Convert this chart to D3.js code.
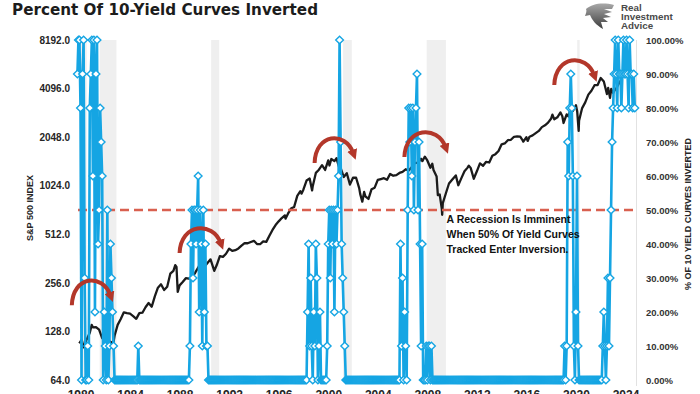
<!DOCTYPE html>
<html>
<head>
<meta charset="utf-8">
<script src="https://cdn.jsdelivr.net/npm/d3@7"></script>
<style>
  body { margin: 0; background: #fff; }
  svg { display: block; font-family: "Liberation Sans", Arial, sans-serif; }
</style>
</head>
<body>
<svg id="chart" width="700" height="394"></svg>
<script>
// ---- data ----
const yearTicks = [1980, 1984, 1988, 1992, 1996, 2000, 2004, 2008, 2012, 2016, 2020, 2024];
const spTicks = [64, 128, 256, 512, 1024, 2048, 4096, 8192];
const pctTicks = [0, 10, 20, 30, 40, 50, 60, 70, 80, 90, 100];

// recession shading, [start, end] in decimal years
const recessions = [[1980.0, 1980.5], [1981.55, 1982.9], [1990.55, 1991.2], [2001.2, 2001.9], [2007.95, 2009.5], [2020.1, 2020.3]];

// S&P 500 index, [decimal year, level]
const sp500 = [
  [1979.9, 107.9], [1980.1, 113.7], [1980.25, 102.1], [1980.5, 114.2], [1980.75, 125.5], [1980.9, 140.5], [1981.0, 135.8],
  [1981.25, 136.0], [1981.5, 131.2], [1981.75, 116.2], [1982.0, 122.6],
  [1982.25, 112.0], [1982.5, 109.6], [1982.6, 102.4], [1982.75, 120.4], [1983.0, 140.6],
  [1983.25, 153.0], [1983.5, 168.1], [1983.75, 166.1], [1984.0, 164.9],
  [1984.25, 159.2], [1984.5, 153.2], [1984.75, 166.1], [1985.0, 167.2],
  [1985.25, 180.7], [1985.5, 191.9], [1985.75, 182.1], [1986.0, 211.3],
  [1986.25, 238.9], [1986.5, 250.8], [1986.75, 231.3], [1987.0, 242.2],
  [1987.25, 291.7], [1987.5, 304.0], [1987.65, 329.8], [1987.75, 321.8], [1987.85, 224.8], [1988.0, 247.1],
  [1988.25, 258.9], [1988.5, 273.5], [1988.75, 271.9], [1989.0, 277.7],
  [1989.25, 294.9], [1989.5, 318.0], [1989.75, 349.2], [1990.0, 353.4],
  [1990.1, 329.1], [1990.25, 339.9], [1990.5, 358.0], [1990.8, 304.0], [1991.0, 330.2],
  [1991.25, 375.2], [1991.5, 371.2], [1991.75, 387.9], [1992.0, 417.1],
  [1992.25, 403.7], [1992.5, 408.1], [1992.75, 418.5], [1993.0, 435.7],
  [1993.25, 451.7], [1993.5, 450.5], [1993.75, 458.9], [1994.0, 466.5],
  [1994.25, 445.8], [1994.5, 444.3], [1994.75, 462.7], [1995.0, 459.3],
  [1995.25, 500.7], [1995.5, 544.8], [1995.75, 584.4], [1996.0, 615.9],
  [1996.25, 645.5], [1996.5, 670.6], [1996.55, 639.9], [1996.75, 687.3], [1997.0, 740.7],
  [1997.25, 757.1], [1997.5, 885.1], [1997.75, 947.3], [1997.85, 914.6], [1998.0, 970.4],
  [1998.25, 1101.8], [1998.5, 1133.8], [1998.7, 957.3], [1998.75, 1017.0], [1999.0, 1229.2],
  [1999.25, 1286.4], [1999.5, 1372.7], [1999.75, 1282.7], [2000.0, 1469.3],
  [2000.1, 1366.4], [2000.25, 1498.6], [2000.5, 1454.6], [2000.67, 1517.7], [2000.75, 1436.5], [2000.9, 1315.2], [2001.0, 1320.3],
  [2001.25, 1160.3], [2001.5, 1224.4], [2001.75, 1040.9], [2002.0, 1148.1],
  [2002.25, 1147.4], [2002.5, 989.8], [2002.58, 911.6], [2002.75, 815.3], [2002.9, 936.3], [2003.0, 879.8],
  [2003.25, 848.2], [2003.5, 974.5], [2003.75, 996.0], [2004.0, 1111.9],
  [2004.25, 1126.2], [2004.5, 1140.8], [2004.75, 1114.6], [2005.0, 1211.9],
  [2005.25, 1180.6], [2005.5, 1191.3], [2005.75, 1228.8], [2006.0, 1248.3],
  [2006.25, 1294.9], [2006.5, 1270.2], [2006.75, 1335.8], [2007.0, 1418.3],
  [2007.25, 1420.9], [2007.5, 1503.4], [2007.6, 1455.3], [2007.75, 1526.8], [2007.8, 1549.4], [2008.0, 1468.4],
  [2008.25, 1322.7], [2008.4, 1400.4], [2008.5, 1280.0], [2008.75, 1166.4], [2008.85, 896.2], [2009.0, 903.3],
  [2009.17, 735.1], [2009.2, 676.5], [2009.25, 797.9], [2009.5, 919.3], [2009.75, 1057.1], [2010.0, 1115.1],
  [2010.3, 1186.7], [2010.5, 1030.7], [2010.75, 1141.2], [2011.0, 1257.6],
  [2011.25, 1325.8], [2011.35, 1363.6], [2011.5, 1320.6], [2011.75, 1131.4], [2012.0, 1257.6],
  [2012.25, 1408.5], [2012.5, 1362.2], [2012.75, 1440.7], [2013.0, 1426.2],
  [2013.25, 1569.2], [2013.5, 1606.3], [2013.75, 1681.6], [2014.0, 1848.4],
  [2014.25, 1872.3], [2014.5, 1960.2], [2014.75, 1972.3], [2015.0, 2058.9],
  [2015.25, 2067.9], [2015.5, 2063.1], [2015.67, 1972.2], [2015.75, 1920.0], [2016.0, 2043.9],
  [2016.1, 1940.2], [2016.25, 2059.7], [2016.5, 2098.9], [2016.75, 2168.3], [2017.0, 2238.8],
  [2017.25, 2362.7], [2017.5, 2423.4], [2017.75, 2519.4], [2018.0, 2673.6],
  [2018.1, 2823.8], [2018.25, 2640.9], [2018.5, 2718.4], [2018.75, 2914.0], [2018.9, 2760.2], [2019.0, 2506.9],
  [2019.25, 2834.4], [2019.4, 2752.1], [2019.5, 2941.8], [2019.75, 2976.7], [2020.0, 3230.8],
  [2020.1, 2954.2], [2020.22, 2237.4], [2020.25, 2584.6], [2020.5, 3100.3], [2020.75, 3363.0], [2021.0, 3756.1],
  [2021.25, 3972.9], [2021.5, 4297.5], [2021.75, 4307.5], [2022.0, 4766.2],
  [2022.25, 4530.4], [2022.5, 3785.4], [2022.6, 4130.3], [2022.75, 3585.6], [2022.85, 4080.1], [2023.0, 3839.5],
  [2023.1, 3970.2], [2023.25, 4109.3], [2023.5, 4450.4], [2023.58, 4589.0]
];

// % of 10 yield curves inverted, monthly; months outside the episodes read as 0%
const seriesStart = [1979, 10];
const seriesEnd = [2024, 10];
const inversionEpisodes = [
  { start: [1979, 10], pct: [90, 100, 100, 80, 0, 90, 100, 30, 0, 0, 10, 0, 80, 90, 100,
                             60, 100, 20, 90, 100, 40, 50, 80, 70, 60, 0, 20, 10, 0, 50, 0, 10, 40, 30, 20, 10] },
  { start: [1984, 9], pct: [10] },
  { start: [1988, 11], pct: [10, 40, 50, 30, 50, 50, 40, 50, 60, 20, 50, 40, 10, 50, 20, 40, 10, 10] },
  { start: [1998, 5], pct: [20, 40, 10, 30, 10, 0, 20, 10, 40, 30, 0, 10, 20] },
  { start: [1999, 12], pct: [10, 40, 50, 30, 50, 40, 50, 20, 50, 40, 50, 60, 100, 70, 40, 30, 20, 10] },
  { start: [2005, 11], pct: [40, 10, 30, 0, 20, 10, 0, 50, 80, 70, 80, 60, 80, 50,
                             70, 80, 90, 50, 70, 40, 10, 40, 0, 0, 0, 10, 0, 10, 10, 0, 10] },
  { start: [2019, 2], pct: [10, 0, 10, 70, 60, 80, 90, 80, 60, 10, 0, 20, 60, 10] },
  { start: [2022, 3], pct: [10, 20, 10, 0, 10, 30, 10, 30, 50, 70, 80, 90, 100, 90, 80, 100, 90, 90, 80, 90, 100, 90,
                            90, 100, 90, 80, 100, 90, 90, 80, 90, 80] }
];

// red "topping" arrows: [from year, to year, S&P level at the arrow ends]
const arrows = [[1979.3, 1982.9, 186], [1988.0, 1991.8, 392], [1998.9, 2002.5, 1417], [2006.15, 2009.95, 1542], [2018.25, 2021.95, 4310]];

const noteLines = ["A Recession Is Imminent", "When 50% Of Yield Curves", "Tracked Enter Inversion."];
const logoLines = ["Real", "Investment", "Advice"];

// ---- build monthly series ----
const monthKey = (ym) => ym[0] * 12 + ym[1] - 1;
const curve = [];
for (let k = monthKey(seriesStart); k <= monthKey(seriesEnd); k++) {
  curve.push({ t: Math.floor(k / 12) + (k % 12) / 12, v: 0 });
}
inversionEpisodes.forEach(function (ep) {
  const i0 = monthKey(ep.start) - monthKey(seriesStart);
  ep.pct.forEach(function (v, i) { curve[i0 + i].v = v; });
});

// ---- chart ----
const BLUE = "#15a5e3";
const svg = d3.select("#chart");

const x = d3.scaleLinear().domain([1980, 2024]).range([80.5, 625.5]);
const yL = d3.scaleLog().base(2).domain([64, 8192]).range([380, 40]);
const yR = d3.scaleLinear().domain([0, 100]).range([380, 40]);

const defs = svg.append("defs");
defs.append("marker")
  .attr("id", "arrowhead")
  .attr("viewBox", "0 0 10 10")
  .attr("refX", 3).attr("refY", 5)
  .attr("markerWidth", 2.6).attr("markerHeight", 2.6)
  .attr("orient", "auto")
  .append("path").attr("d", "M0,0 L10,5 L0,10 z").attr("fill", "#b3372a");

const grad = defs.append("linearGradient").attr("id", "logoGrad")
  .attr("x1", 0).attr("y1", 0).attr("x2", 0).attr("y2", 1);
grad.append("stop").attr("offset", "0%").attr("stop-color", "#a8a8a8");
grad.append("stop").attr("offset", "100%").attr("stop-color", "#3d3d3d");

// recession bands
svg.append("g").selectAll("rect")
  .data(recessions)
  .enter().append("rect")
  .attr("x", d => x(d[0]))
  .attr("width", d => x(d[1]) - x(d[0]))
  .attr("y", yR(100))
  .attr("height", yR(0) - yR(100))
  .attr("fill", "#efefef");

// right frame line
svg.append("line")
  .attr("x1", 636.5).attr("x2", 636.5)
  .attr("y1", yR(100)).attr("y2", yR(0) + 6)
  .attr("stroke", "#e2e2e2");

// S&P 500 line
svg.append("path")
  .datum(sp500)
  .attr("fill", "none")
  .attr("stroke", "#1b1b1b")
  .attr("stroke-width", 2.3)
  .attr("stroke-linejoin", "round")
  .attr("d", d3.line().x(d => x(d[0])).y(d => yL(d[1])));

// 50% threshold
svg.append("line")
  .attr("x1", 78).attr("x2", 636)
  .attr("y1", yR(50)).attr("y2", yR(50))
  .attr("stroke", "#d9604f")
  .attr("stroke-width", 2.6)
  .attr("stroke-dasharray", "9,5");

// inverted-curve series
svg.append("path")
  .datum(curve)
  .attr("fill", "none")
  .attr("stroke", BLUE)
  .attr("stroke-width", 2.6)
  .attr("stroke-linejoin", "round")
  .attr("d", d3.line().x(d => x(d.t)).y(d => yR(d.v)));

svg.append("g").selectAll("path")
  .data(curve)
  .enter().append("path")
  .attr("transform", d => "translate(" + x(d.t) + "," + yR(d.v) + ")")
  .attr("d", d3.symbol().type(d3.symbolDiamond2).size(38))
  .attr("fill", "#fff")
  .attr("stroke", BLUE)
  .attr("stroke-width", 1.4);

// arrows
svg.append("g").selectAll("path")
  .data(arrows)
  .enter().append("path")
  .attr("fill", "none")
  .attr("stroke", "#b3372a")
  .attr("stroke-width", 4)
  .attr("marker-end", "url(#arrowhead)")
  .attr("d", function (d) {
    const x0 = x(d[0]), x1 = x(d[1]), yb = yL(d[2]);
    return "M" + x0 + "," + yb +
      " C" + (x0 + 1) + "," + (yb - 30) + " " + (x1 - 14) + "," + (yb - 32) + " " + (x1 - 6) + "," + (yb - 10);
  });

// annotation
svg.append("g").selectAll("text")
  .data(noteLines)
  .enter().append("text")
  .attr("x", x(2009.55))
  .attr("y", (d, i) => yR(50) + 13 + i * 15)
  .attr("font-size", 10.5)
  .attr("font-weight", "bold")
  .attr("fill", "#111")
  .text(d => d);

// axes
const leftAxis = svg.append("g")
  .attr("transform", "translate(74,0)")
  .call(d3.axisLeft(yL).tickValues(spTicks).tickFormat(d => d.toFixed(1)).tickSize(0).tickPadding(4));
leftAxis.select(".domain").remove();
leftAxis.selectAll("text").attr("font-size", 10).attr("font-weight", "bold").attr("fill", "#262626")
  .attr("font-family", "Liberation Sans, Arial, sans-serif");

const rightAxis = svg.append("g")
  .attr("transform", "translate(640,0)")
  .call(d3.axisRight(yR).tickValues(pctTicks).tickFormat(d => d.toFixed(2) + "%").tickSize(0).tickPadding(6));
rightAxis.select(".domain").remove();
rightAxis.selectAll("text").attr("font-size", 9.5).attr("font-weight", "bold").attr("fill", "#333")
  .attr("font-family", "Liberation Sans, Arial, sans-serif");

const bottomAxis = svg.append("g")
  .attr("transform", "translate(0,382)")
  .call(d3.axisBottom(x).tickValues(yearTicks).tickFormat(d3.format("d")).tickSize(0).tickPadding(8));
bottomAxis.select(".domain").remove();
bottomAxis.selectAll("text").attr("font-size", 12).attr("font-weight", "bold").attr("fill", "#262626")
  .attr("font-family", "Liberation Sans, Arial, sans-serif");

// axis titles
svg.append("text")
  .attr("transform", "translate(33,208) rotate(-90)")
  .attr("text-anchor", "middle")
  .attr("font-size", 9)
  .attr("font-weight", "bold")
  .attr("fill", "#262626")
  .text("S&P 500 INDEX");

svg.append("text")
  .attr("transform", "translate(691,214) rotate(-90)")
  .attr("text-anchor", "middle")
  .attr("font-size", 9)
  .attr("font-weight", "bold")
  .attr("fill", "#262626")
  .text("% OF 10 YIELD CURVES INVERTED");

// title
svg.append("text")
  .attr("x", 12).attr("y", 15)
  .attr("font-family", "DejaVu Sans, Verdana, sans-serif")
  .attr("font-size", 15.5)
  .attr("font-weight", "bold")
  .attr("fill", "#1c1c1c")
  .attr("textLength", 306)
  .attr("lengthAdjust", "spacingAndGlyphs")
  .text("Percent Of 10-Yield Curves Inverted");

// logo
const logo = svg.append("g").attr("transform", "translate(585,2)");
logo.append("path")
  .attr("d", "M1,7 C7,2 17,0 29,3 L27,7 L19,7 L27,10 L19,12 L26,15 L18,16 L23,20 L16,20 L18,27 C11,23 7,18 5,13 L0,14 C1,11 2,9 1,7 Z")
  .attr("fill", "url(#logoGrad)");
logo.selectAll("text")
  .data(logoLines)
  .enter().append("text")
  .attr("x", 36)
  .attr("y", (d, i) => 9 + i * 9)
  .attr("font-size", 9.8)
  .attr("font-weight", "bold")
  .attr("fill", "#4a4a4a")
  .text(d => d);
</script>
</body>
</html>
